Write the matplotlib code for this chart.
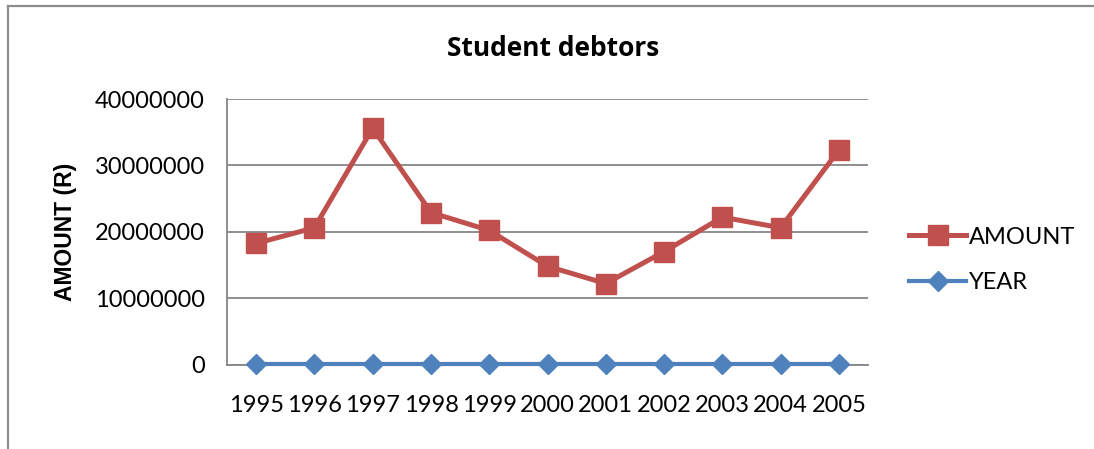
import numpy as np
import matplotlib.pyplot as plt
from matplotlib.lines import Line2D

years = ["1995", "1996", "1997", "1998", "1999", "2000", "2001", "2002", "2003", "2004", "2005"]
amount = [18250000, 20600000, 35600000, 22900000, 20200000, 14800000,
          12200000, 17000000, 22200000, 20600000, 32300000]
year_vals = [1995, 1996, 1997, 1998, 1999, 2000, 2001, 2002, 2003, 2004, 2005]
yticks = [0, 10000000, 20000000, 30000000, 40000000]

plt.rcParams['font.family'] = ['Lato', 'DejaVu Sans']

W, H = 1094, 449
fig = plt.figure(figsize=(W / 100, H / 100), dpi=100)
ax = fig.add_axes([227 / W, 1 - 364.5 / H, (868 - 227) / W, (364.5 - 99) / H])

x = np.arange(len(years)) + 0.5
ax.plot(x, amount, color='#C0504D', lw=3.6, marker='s', ms=14, label='AMOUNT',
        solid_joinstyle='round', zorder=4)
ax.plot(x, year_vals, color='#4F81BD', lw=3.0, marker='D', ms=10, label='YEAR',
        zorder=5, clip_on=False)

ax.set_xlim(0, len(years))
ax.set_ylim(0, 40000000)
ax.set_yticks(yticks)
ax.set_yticklabels([str(v) for v in yticks])
ax.set_xticks(x)
ax.set_xticklabels(years)
ax.tick_params(length=0, labelsize=17, pad=22)
ax.tick_params(axis='y', pad=16)
ax.yaxis.grid(True, color='#868686', lw=1.3)
ax.set_axisbelow(True)
for s in ['top', 'right']:
    ax.spines[s].set_visible(False)
for s in ['left', 'bottom']:
    ax.spines[s].set_color('#868686')
    ax.spines[s].set_linewidth(1.3)

ax.set_ylabel('AMOUNT (R)', fontsize=16.5, fontweight='bold', labelpad=13,
              family=['Liberation Sans', 'DejaVu Sans'])
fig.text(553 / W, 1 - 48 / H, 'Student debtors', fontsize=19, fontweight='bold',
         ha='center', va='center', family=['Open Sans', 'DejaVu Sans'])

ax.legend(loc='center left', bbox_to_anchor=(900 / W, 1 - 260 / H),
          bbox_transform=fig.transFigure, frameon=False, fontsize=17,
          handlelength=2.4, handletextpad=0.1, labelspacing=1.05,
          borderaxespad=0)

# outer chart border
fig.add_artist(Line2D([8 / W, 8 / W], [0, 1 - 6 / H], transform=fig.transFigure,
                      color='#8c8c8c', lw=1.6))
fig.add_artist(Line2D([8 / W, 1], [1 - 6 / H, 1 - 6 / H], transform=fig.transFigure,
                      color='#8c8c8c', lw=1.6))

fig.savefig('out.png', dpi=100)
